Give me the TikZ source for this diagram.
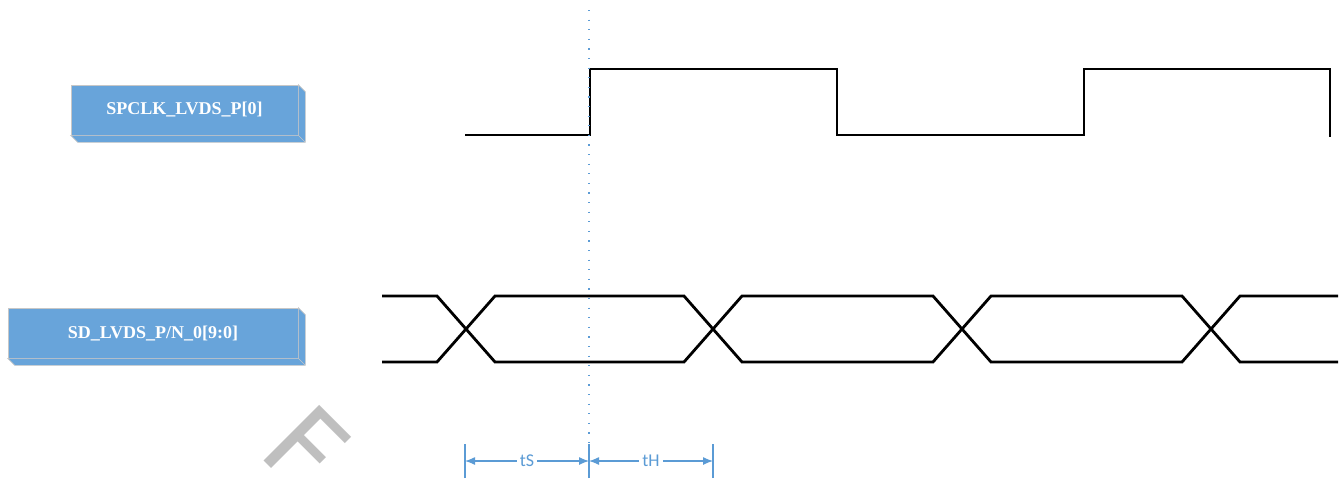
\documentclass[tikz,border=0pt]{standalone}
\usepackage{fontspec}
\setmainfont{Liberation Serif}
\newfontfamily\calib{Carlito}
\newfontfamily\wmfont{DejaVu Sans}
\usetikzlibrary{arrows.meta}
\definecolor{boxblue}{RGB}{104,164,218}
\definecolor{dimblue}{RGB}{91,155,213}
\begin{document}
\begin{tikzpicture}[x=1pt, y=-1pt, semithick,
	sig/.style={draw=black!22, fill=boxblue, text=white, font=\fontsize{18}{20}\selectfont\bfseries, minimum height=50pt, inner sep=0pt},
	wave/.style={line width=2.8pt, line join=miter},
	dim/.style={dimblue, line width=1.2pt},
	dimarr/.style={dim, {Latex[length=10pt,width=8pt]}-{Latex[length=10pt,width=8pt]}},
	dimlbl/.style={fill=white, text=dimblue, font=\calib\fontsize{18}{20}\selectfont, inner sep=3pt}]
	  \useasboundingbox (0,0) rectangle (1343,480);
	  \clip (0,0) rectangle (1343,480);
	  \node[font=\wmfont\fontsize{108}{108}\selectfont, text=black!25, rotate=-45, anchor=base west, inner sep=0pt] (wm) at (256,453) {F};

	  \node[sig, minimum width=227pt] (clk)  at (184.5,110) {SPCLK\_LVDS\_P[0]};
	  \node[sig, minimum width=290pt] (data) at (153,333)   {SD\_LVDS\_P/N\_0[9:0]};
	  \foreach \n in {clk,data}
	    \filldraw[fill=boxblue, draw=black!22] (\n.north east) -- ([shift={(7,7)}]\n.north east) -- ([shift={(7,7)}]\n.south east)
	      -- ([shift={(7,7)}]\n.south west) -- (\n.south west) -- (\n.south east) -- cycle
	      (\n.south east) -- ([shift={(7,7)}]\n.south east);

	  \draw[wave] (465,135) -- (590,135) -- (590,69) -- (837,69) -- (837,135) -- (1084,135) -- (1084,69) -- (1330,69) -- (1330,137);
	  \draw[wave] (382,296) -- (437,296) -- (495,362) -- (684,362) -- (742,296) -- (933,296) -- (991,362) -- (1182,362) -- (1240,296) -- (1338,296);
	  \draw[wave] (382,362) -- (437,362) -- (495,296) -- (684,296) -- (742,362) -- (933,362) -- (991,296) -- (1182,296) -- (1240,362) -- (1338,362);

	  \draw[dimblue, line width=1.8pt, dash pattern=on 1.2pt off 8.4pt] (589,10) -- (589,480);

	  \coordinate (s) at (465,461);
	  \coordinate (m) at (589,461);
	  \coordinate (h) at (713,461);
	  \foreach \p in {s,m,h}
	    \draw[dim] ([yshift=-17pt]\p) -- ([yshift=17pt]\p);
	  \draw[dimarr] (s) -- node[dimlbl] (ts) {tS} (m);
	  \draw[dimarr] (m) -- node[dimlbl] (th) {tH} (h);
\end{tikzpicture}
\end{document}
